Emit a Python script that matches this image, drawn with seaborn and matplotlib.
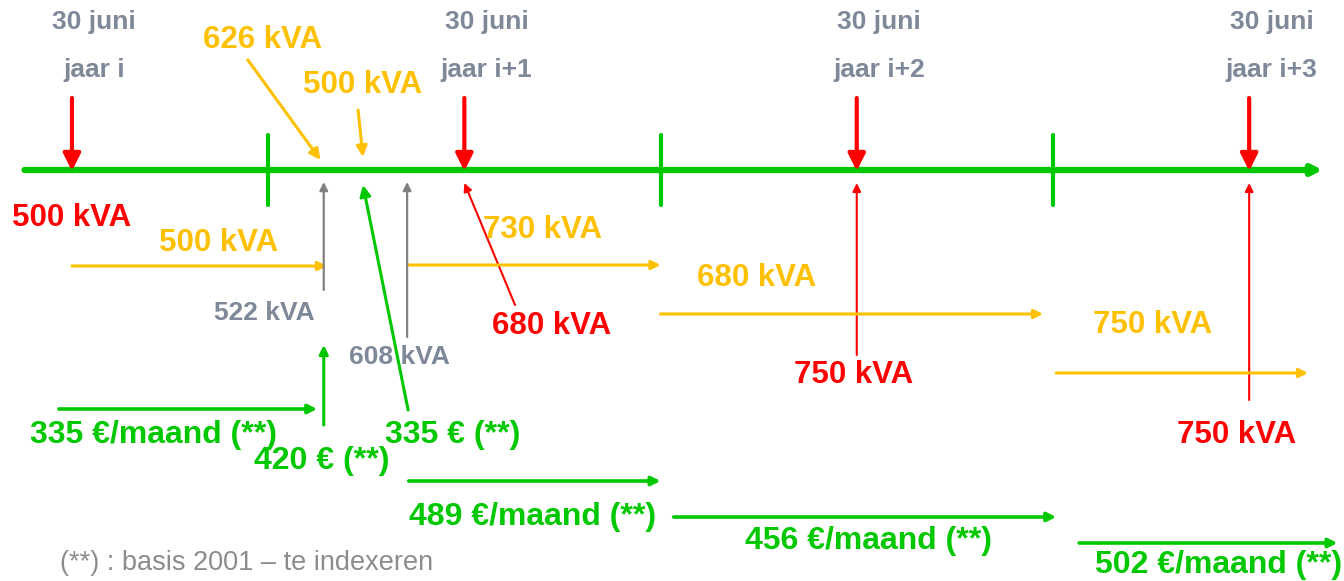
import seaborn as sns
import matplotlib.pyplot as plt

# ---------------------------------- data (time in months from 1 Jan, jaar i) ----------------------------------

year_labels = ["jaar i", "jaar i+1", "jaar i+2", "jaar i+3"]
june_months = [6, 18, 30, 42]               # 30 juni of each year
year_ends = [12, 24, 36]                    # green ticks on the time line
peak_kva = [500, 680, 750, 750]             # measured peak (red)

cap_start = [6, 16.3, 24, 36.1]             # contracted capacity periods (yellow)
cap_end = [13.8, 24, 35.7, 43.8]
cap_kva = [500, 730, 680, 750]

req_month = [13.6, 14.9]                    # requested capacity (yellow short arrows)
req_kva = [626, 500]

grey_month = [13.7, 16.25]                  # intermediate values (grey)
grey_kva = [522, 608]

fee_start = [5.6, 16.3, 24.4, 36.8]         # monthly fee periods (green)
fee_end = [13.5, 24, 36.1, 44.7]
fee_eur = [335, 489, 456, 502]

once_month = [13.7, 14.9]                   # one-off fees
once_eur = [420, 335]

GREEN = "#00C800"
RED = "#FF0000"
YELLOW = "#FFC000"
GREY = "#7F8899"
ARROW_GREY = "#808080"

sns.set_theme(style="white")
plt.rcParams["font.family"] = ["Liberation Sans", "DejaVu Sans"]

fig = plt.figure(figsize=(13.44, 5.81), dpi=100)
ax = fig.add_axes([0, 0, 1, 1])
ax.set_xlim(3.8, 44.9)
ax.set_ylim(581, 0)
ax.set_axis_off()


def arrow(x1, y1, x2, y2, color, lw, ms=14):
    ax.annotate("", xy=(x2, y2), xytext=(x1, y1),
                arrowprops=dict(arrowstyle="-|>", color=color, lw=lw,
                                mutation_scale=ms, shrinkA=0, shrinkB=0))


def label(x, y, s, color, size=22.5, weight="bold"):
    ax.text(x, y, s, color=color, fontsize=size, fontweight=weight,
            ha="center", va="center")


# ----------------------------------------- time line -----------------------------------------
arrow(4.55, 170, 44.25, 170, GREEN, 4.5, ms=14)
for m in year_ends:
    sns.lineplot(x=[m, m], y=[135, 205], color=GREEN, lw=3, ax=ax,
                 estimator=None, sort=False)

# 30 juni markers
for m, yl in zip(june_months, year_labels):
    arrow(m, 98, m, 171, RED, 3, ms=26)
    label(m + 0.68, 22, "30 juni", GREY, size=19)
    label(m + 0.68, 70, yl, GREY, size=19)

# measured peaks
label(june_months[0], 218, f"{peak_kva[0]} kVA", RED)
arrow(19.55, 305, june_months[1], 183, RED, 1.5, ms=12)
label(20.68, 326, f"{peak_kva[1]} kVA", RED)
arrow(june_months[2], 355, june_months[2], 183, RED, 1.5, ms=12)
label(29.9, 375, f"{peak_kva[2]} kVA", RED)
arrow(june_months[3], 400, june_months[3], 183, RED, 1.5, ms=12)
label(41.63, 435, f"{peak_kva[3]} kVA", RED)

# requested capacity
arrow(11.38, 60, req_month[0], 160, YELLOW, 2.2, ms=16)
label(11.84, 40, f"{req_kva[0]} kVA", YELLOW)
arrow(14.75, 110, req_month[1], 157, YELLOW, 2.2, ms=16)
label(14.9, 85, f"{req_kva[1]} kVA", YELLOW)

# contracted capacity periods
cap_y = [266, 265, 314, 373]
cap_lab = [(10.5, 243), (20.4, 230), (26.95, 278), (39.06, 325)]
for x1, x2, v, y, (lx, ly) in zip(cap_start, cap_end, cap_kva, cap_y, cap_lab):
    arrow(x1, y, x2, y, YELLOW, 2.2, ms=13)
    label(lx, ly, f"{v} kVA", YELLOW)

# grey intermediate values
arrow(grey_month[0], 290, grey_month[0], 182, ARROW_GREY, 1.6, ms=12)
label(11.87, 313, f"{grey_kva[0]} kVA", GREY, size=19)
arrow(grey_month[1], 337, grey_month[1], 182, ARROW_GREY, 1.6, ms=12)
label(16.03, 357, f"{grey_kva[1]} kVA", GREY, size=19)

# monthly fees
fee_y = [409, 481, 517, 543]
fee_lab = [(8.48, 435), (20.1, 517), (30.35, 541), (41.05, 565)]
for x1, x2, v, y, (lx, ly) in zip(fee_start, fee_end, fee_eur, fee_y, fee_lab):
    arrow(x1, y, x2, y, GREEN, 2.6, ms=13)
    label(lx, ly, f"{v} €/maand (**)", GREEN, size=23)

# one-off fees
arrow(once_month[0], 425, once_month[0], 345, GREEN, 2.2, ms=13)
label(13.65, 461, f"{once_eur[0]} € (**)", GREEN, size=23)
arrow(16.28, 410, once_month[1], 185, GREEN, 2.2, ms=16)
label(17.65, 435, f"{once_eur[1]} € (**)", GREEN, size=23)

ax.text(5.63, 563, "(**) : basis 2001 – te indexeren", color="#8C8C8C",
        fontsize=19.5, ha="left", va="center")

fig.savefig("out.png", dpi=100)
